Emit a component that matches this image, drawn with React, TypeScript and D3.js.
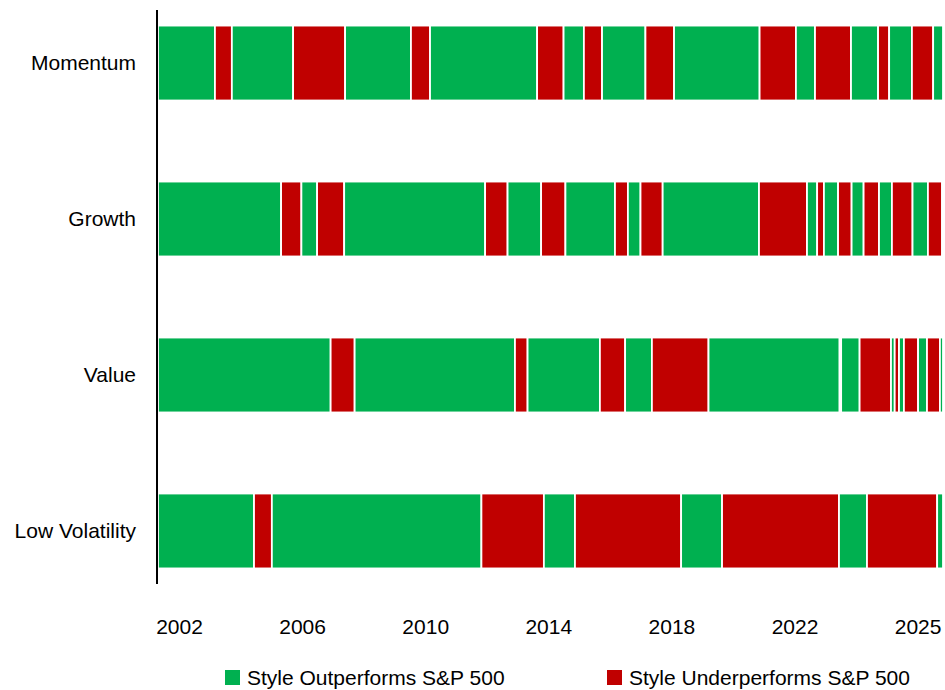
import React, { useRef, useEffect } from 'react';
import * as d3 from 'd3';

// Styles (top to bottom) and the dates where each one flips between
// outperforming and underperforming the S&P 500. Every row starts outperforming.
const styles = ['Momentum', 'Growth', 'Value', 'Low Volatility'];

const momentumSwitches = [2003.15, 2003.70, 2005.69, 2007.38, 2009.52, 2010.14, 2013.62, 2014.48, 2015.14, 2015.73,
  2017.14, 2018.07, 2020.85, 2022.03, 2022.65, 2023.82, 2024.70, 2025.06, 2025.80, 2026.49];
const growthSwitches = [2005.30, 2005.96, 2006.47, 2007.35, 2011.93, 2012.66, 2013.75, 2014.54, 2016.15, 2016.57,
  2016.98, 2017.70, 2020.83, 2022.39, 2022.72, 2022.94, 2023.40, 2023.84, 2024.23, 2024.73, 2025.15, 2025.82,
  2026.32, 2026.78];
const valueSwitches = [2006.91, 2007.69, 2012.90, 2013.31, 2015.66, 2016.48, 2017.35, 2019.19, 2023.45, 2023.50,
  2024.10, 2025.12, 2025.24, 2025.38, 2025.54, 2026.00, 2026.29, 2026.71];
const lowVolSwitches = [2004.42, 2005.00, 2011.81, 2013.84, 2014.85, 2018.30, 2019.63, 2023.43, 2024.34, 2026.62];

const switchesByStyle = [momentumSwitches, growthSwitches, valueSwitches, lowVolSwitches];

const startYear = 2001.3;
const endYear = 2026.81;

const tickYears = [2002, 2006, 2010, 2014, 2018, 2022, 2026];
const tickLabels = ['2002', '2006', '2010', '2014', '2018', '2022', '2025'];

const legendLabels = ['Style Outperforms S&P 500', 'Style Underperforms S&P 500'];
const GREEN = '#00B050';
const RED = '#C00000';
const FONT = '"Liberation Sans", Arial, sans-serif';

const App: React.FC = () => {
  const svgRef = useRef<SVGSVGElement>(null);

  useEffect(() => {
    if (!svgRef.current) return;
    const svg = d3.select(svgRef.current);
    svg.selectAll('*').remove();

    const left = 158;
    const right = 943;

    const x = d3.scaleLinear().domain([startYear, endYear]).range([left, right]);
    const y = d3.scaleBand().domain(styles).range([10, 584]).paddingInner(0.526).paddingOuter(0.103);

    // Segments
    styles.forEach((s, i) => {
      const bounds = [startYear, ...switchesByStyle[i], endYear];
      const segs = d3.pairs(bounds).map(([a, b], k) => ({ a, b, up: k % 2 === 0 }));
      svg.append('g')
        .selectAll('rect')
        .data(segs)
        .enter().append('rect')
        .attr('x', (d) => x(d.a))
        .attr('width', (d) => Math.max(0, x(d.b) - x(d.a)))
        .attr('y', (y(s) || 0) - 0.5)
        .attr('height', y.bandwidth() + 1)
        .attr('fill', (d) => (d.up ? GREEN : RED))
        .attr('stroke', '#fff')
        .attr('stroke-width', 1.8);
    });

    // Y axis line + labels
    svg.append('line')
      .attr('x1', left - 1).attr('x2', left - 1)
      .attr('y1', 10).attr('y2', 584)
      .attr('stroke', '#000').attr('stroke-width', 2);

    svg.append('g')
      .selectAll('text')
      .data(styles)
      .enter().append('text')
      .attr('x', 136)
      .attr('y', (d) => (y(d) || 0) + y.bandwidth() / 2)
      .attr('dy', '0.35em')
      .attr('text-anchor', 'end')
      .attr('font-family', FONT)
      .attr('font-size', '21px')
      .attr('fill', '#000')
      .text((d) => d);

    // X tick labels
    svg.append('g')
      .selectAll('text')
      .data(tickYears)
      .enter().append('text')
      .attr('x', (d) => x(d))
      .attr('y', 634)
      .attr('text-anchor', 'middle')
      .attr('font-family', FONT)
      .attr('font-size', '21px')
      .attr('fill', '#000')
      .text((_, i) => tickLabels[i]);

    // Legend
    const legendX = [225, 607];
    legendLabels.forEach((label, i) => {
      const row = svg.append('g').attr('transform', `translate(${legendX[i]}, 670)`);
      row.append('rect').attr('width', 15).attr('height', 15).attr('fill', i === 0 ? GREEN : RED);
      row.append('text').attr('x', 22).attr('y', 14.5)
        .attr('font-family', FONT).attr('font-size', '21px').attr('fill', '#000')
        .text(label);
    });
  }, []);

  return (
    <div style={{ position: 'absolute', left: 0, top: 0, width: 945, height: 690, background: '#fff' }}>
      <svg ref={svgRef} width={945} height={690} style={{ display: 'block' }} />
    </div>
  );
};

export default App;
